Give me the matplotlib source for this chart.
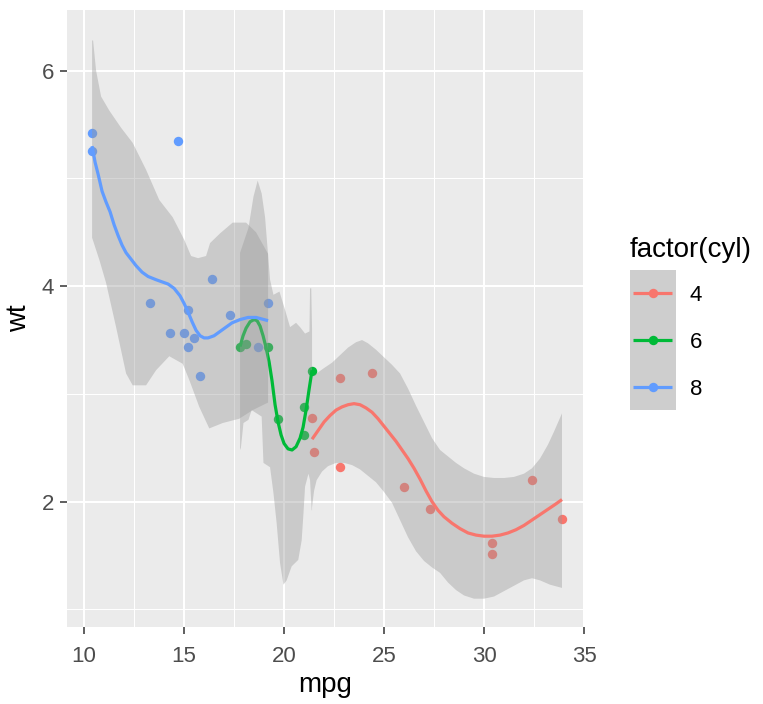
import matplotlib
matplotlib.use('Agg')
import matplotlib.pyplot as plt
import numpy as np

plt.rcParams['font.family'] = ['Liberation Sans', 'DejaVu Sans']

# ---- data (mtcars) ----
mpg = [21.0, 21.0, 22.8, 21.4, 18.7, 18.1, 14.3, 24.4, 22.8, 19.2, 17.8, 16.4, 17.3, 15.2,
       10.4, 10.4, 14.7, 32.4, 30.4, 33.9, 21.5, 15.5, 15.2, 13.3, 19.2, 27.3, 26.0, 30.4,
       15.8, 19.7, 15.0, 21.4]
wt = [2.620, 2.875, 2.320, 3.215, 3.440, 3.460, 3.570, 3.190, 3.150, 3.440, 3.440, 4.070,
      3.730, 3.780, 5.250, 5.424, 5.345, 2.200, 1.615, 1.835, 2.465, 3.520, 3.435, 3.840,
      3.845, 1.935, 2.140, 1.513, 3.170, 2.770, 3.570, 2.780]
cyl = [6, 6, 4, 6, 8, 6, 8, 4, 4, 6, 6, 8, 8, 8, 8, 8, 8, 4, 4, 4, 4, 8, 8, 8, 8, 4, 4, 4,
       8, 6, 8, 4]
groups = [4, 6, 8]
group_colors = ['#F8766D', '#00BA38', '#619CFF']

# ---- smoother ----
red_line_x = [21.4, 21.7, 22.0, 22.3, 22.6, 22.9, 23.2, 23.5, 23.8, 24.1, 24.4, 24.7, 25.0,
              25.3, 25.6, 25.9, 26.2, 26.5, 26.8, 27.1, 27.4, 27.7, 28.0, 28.4, 28.8, 29.2,
              29.6, 30.0, 30.4, 30.8, 31.2, 31.6, 32.0, 32.4, 32.8, 33.2, 33.6, 33.9]
red_line_y = [2.58, 2.66, 2.74, 2.80, 2.85, 2.88, 2.90, 2.91, 2.90, 2.87, 2.83, 2.77, 2.70,
              2.63, 2.56, 2.48, 2.40, 2.31, 2.21, 2.10, 2.00, 1.92, 1.86, 1.80, 1.75, 1.71,
              1.69, 1.68, 1.68, 1.69, 1.71, 1.74, 1.78, 1.83, 1.88, 1.93, 1.98, 2.02]
red_up_x = [21.4, 21.7, 22.0, 22.4, 22.8, 23.2, 23.6, 23.9, 24.2, 24.6, 25.0, 25.4, 25.8,
            26.2, 26.6, 27.0, 27.4, 27.8, 28.2, 28.6, 29.0, 29.5, 30.0, 30.5, 31.0, 31.5,
            32.0, 32.4, 32.8, 33.2, 33.5, 33.9]
red_up_y = [3.16, 3.20, 3.24, 3.29, 3.36, 3.43, 3.48, 3.50, 3.47, 3.41, 3.34, 3.27, 3.19,
            3.05, 2.89, 2.74, 2.59, 2.48, 2.42, 2.36, 2.31, 2.26, 2.23, 2.22, 2.22, 2.23,
            2.26, 2.31, 2.40, 2.53, 2.65, 2.82]
red_lo_x = [21.4, 21.5, 21.63, 21.9, 22.2, 22.6, 23.0, 23.4, 23.8, 24.2, 24.6, 25.0, 25.4,
            25.8, 26.2, 26.6, 27.0, 27.4, 27.8, 28.2, 28.6, 29.0, 29.5, 30.0, 30.5, 31.0,
            31.5, 32.0, 32.4, 32.8, 33.3, 33.9]
red_lo_y = [1.95, 2.10, 2.20, 2.28, 2.33, 2.36, 2.36, 2.34, 2.30, 2.24, 2.18, 2.09, 1.99,
            1.83, 1.67, 1.54, 1.45, 1.39, 1.34, 1.25, 1.18, 1.13, 1.10, 1.10, 1.12, 1.17,
            1.22, 1.27, 1.29, 1.27, 1.23, 1.20]

green_line_x = [17.8, 17.95, 18.1, 18.3, 18.5, 18.65, 18.8, 18.95, 19.1, 19.25, 19.4, 19.55,
                19.7, 19.85, 20.0, 20.2, 20.4, 20.6, 20.8, 20.95, 21.1, 21.25, 21.4]
green_line_y = [3.44, 3.54, 3.61, 3.67, 3.69, 3.68, 3.63, 3.54, 3.43, 3.30, 3.12, 2.90,
                2.74, 2.62, 2.54, 2.49, 2.48, 2.51, 2.59, 2.69, 2.85, 3.04, 3.22]
green_up_x = [17.8, 18.22, 18.47, 18.68, 18.88, 19.05, 19.3, 19.47, 19.77, 20.05, 20.3, 20.6,
              20.8, 21.05, 21.27, 21.3, 21.36, 21.4]
green_up_y = [4.31, 4.54, 4.83, 4.98, 4.86, 4.64, 4.06, 3.92, 3.95, 3.78, 3.62, 3.66,
              3.62, 3.56, 3.58, 3.98, 3.98, 3.60]
green_lo_x = [17.8, 17.83, 17.97, 18.22, 18.38, 18.88, 18.97, 19.3, 19.47, 19.63, 19.8, 19.97,
              20.13, 20.38, 20.71, 20.88, 20.97, 21.05, 21.22, 21.3, 21.38, 21.4]
green_lo_y = [2.50, 2.48, 2.73, 2.76, 2.85, 2.79, 2.36, 2.32, 2.08, 1.80, 1.43, 1.23,
              1.27, 1.40, 1.46, 1.64, 1.89, 2.14, 2.26, 2.20, 1.92, 1.92]

blue_line_x = [10.4, 10.55, 10.7, 10.9, 11.1, 11.3, 11.5, 11.7, 11.9, 12.1, 12.35, 12.6,
               12.9, 13.2, 13.6, 13.9, 14.2, 14.5, 14.8, 15.0, 15.2, 15.4, 15.6, 15.8, 16.0,
               16.2, 16.5, 16.8, 17.1, 17.4, 17.8, 18.2, 18.6, 19.0, 19.2]
blue_line_y = [5.30, 5.15, 5.04, 4.88, 4.78, 4.69, 4.57, 4.47, 4.38, 4.31, 4.25, 4.19,
               4.13, 4.09, 4.06, 4.04, 4.02, 3.98, 3.91, 3.84, 3.76, 3.67, 3.59, 3.54, 3.52,
               3.52, 3.54, 3.58, 3.62, 3.66, 3.69, 3.71, 3.71, 3.69, 3.68]
blue_up_x = [10.4, 10.45, 10.6, 10.85, 11.26, 11.85, 12.43, 13.1, 13.76, 14.43, 15.01, 15.35,
             15.7, 16.1, 16.3, 16.8, 17.43, 18.1, 18.6, 19.2]
blue_up_y = [6.28, 6.28, 6.00, 5.76, 5.63, 5.47, 5.33, 5.08, 4.80, 4.64, 4.43, 4.28,
             4.26, 4.28, 4.40, 4.49, 4.59, 4.59, 4.50, 4.30]
blue_lo_x = [10.4, 10.77, 11.1, 11.6, 12.1, 12.43, 13.1, 13.6, 14.26, 14.93, 15.26, 15.76,
             16.26, 16.93, 17.76, 18.43, 19.2]
blue_lo_y = [4.45, 4.24, 4.03, 3.62, 3.19, 3.08, 3.08, 3.22, 3.35, 3.28, 3.13, 2.88,
             2.68, 2.73, 2.77, 2.85, 2.92]

smooths = [
    (red_line_x, red_line_y, red_up_x, red_up_y, red_lo_x, red_lo_y),
    (green_line_x, green_line_y, green_up_x, green_up_y, green_lo_x, green_lo_y),
    (blue_line_x, blue_line_y, blue_up_x, blue_up_y, blue_lo_x, blue_lo_y),
]

x_ticks = [10, 15, 20, 25, 30, 35]
y_ticks = [2, 4, 6]

# ---- figure ----
W, H = 763, 704
fig = plt.figure(figsize=(W / 100, H / 100), dpi=100)
L, R, T, B = 66.7, 584.0, 10.0, 626.7
ax = fig.add_axes([L / W, 1 - B / H, (R - L) / W, (B - T) / H])
ax.set_facecolor('#EBEBEB')
for s in ax.spines.values():
    s.set_visible(False)
ax.set_xlim(9.13, 35.0)
ax.set_ylim(0.84, 6.563)
ax.set_xticks(x_ticks)
ax.set_yticks(y_ticks)
ax.set_xticks([12.5, 17.5, 22.5, 27.5, 32.5], minor=True)
ax.set_yticks([1, 3, 5], minor=True)
ax.grid(True, which='major', color='white', linewidth=1.5)
ax.grid(True, which='minor', color='white', linewidth=0.75)
ax.set_axisbelow(True)
ax.tick_params(which='major', length=5.3, width=1.1, color='#333333',
               labelsize=16, labelcolor='#4D4D4D')
ax.tick_params(axis='x', which='major', pad=8.5)
ax.tick_params(axis='y', which='major', pad=3.8)
ax.tick_params(which='minor', length=0)

# points
mpg_a = np.array(mpg); wt_a = np.array(wt); cyl_a = np.array(cyl)
for g, c in zip(groups, group_colors):
    m = cyl_a == g
    ax.scatter(mpg_a[m], wt_a[m], s=46, color=c, linewidths=0, zorder=2)

# smooths
for (lx, ly, ux, uy, lox, loy), c in zip(smooths, group_colors):
    px = np.concatenate([np.array(ux), np.array(lox)[::-1]])
    py = np.concatenate([np.array(uy), np.array(loy)[::-1]])
    ax.fill(px, py, color='#999999', alpha=0.4, linewidth=0, zorder=3)
    ax.plot(lx, ly, color=c, linewidth=2.3, solid_capstyle='butt',
            solid_joinstyle='round', zorder=3)

ax.set_xlabel('mpg', fontsize=20, color='black')
ax.xaxis.label.set_va('baseline')
ax.xaxis.set_label_coords(0.5, -(692 - B) / (B - T))
ax.set_ylabel('wt', fontsize=20, color='black')
ax.yaxis.label.set_va('center')
ax.yaxis.set_label_coords(-(L - 19) / (R - L), 0.5)

# legend (drawn manually)
kx0, kx1, ky0, ky1 = 630, 676, 270, 410
lax = fig.add_axes([kx0 / W, 1 - ky1 / H, (kx1 - kx0) / W, (ky1 - ky0) / H])
lax.set_xlim(0, 1)
lax.set_ylim(0, 3)
lax.set_facecolor('#CECECE')
for s in lax.spines.values():
    s.set_visible(False)
lax.set_xticks([]); lax.set_yticks([])
for i, (g, c) in enumerate(zip(groups, group_colors)):
    yy = 2.5 - i
    lax.plot([0.07, 0.91], [yy, yy], color=c, linewidth=2.3, solid_capstyle='butt')
    lax.scatter([0.49], [yy], s=46, color=c, linewidths=0, zorder=3)
    ycen = ky0 + (ky1 - ky0) * (i + 0.5) / 3
    fig.text(690 / W, 1 - ycen / H, str(g), fontsize=16, color='black',
             ha='left', va='center_baseline')
fig.text(630 / W, 1 - 247 / H, 'factor(cyl)', fontsize=20, color='black',
         ha='left', va='center_baseline')

fig.savefig('out.png', dpi=100)
